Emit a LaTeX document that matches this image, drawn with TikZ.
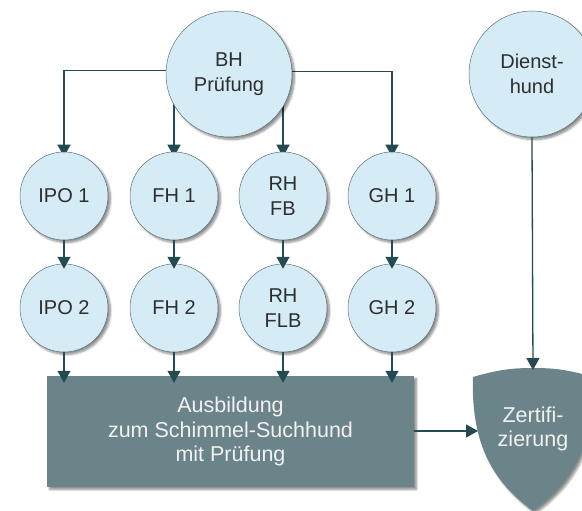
\documentclass[tikz,border=0pt]{standalone}
\usepackage{fontspec}
\setmainfont{Liberation Sans}
\usetikzlibrary{arrows.meta,shadows.blur}
\definecolor{cfill}{HTML}{D5ECF6}
\definecolor{cedge}{HTML}{5A7479}
\definecolor{arr}{HTML}{244A52}
\definecolor{slate}{HTML}{6B8489}
\definecolor{txt}{HTML}{2E2E2E}
\definecolor{wtxt}{HTML}{F2F2F2}
\pgfdeclarelayer{bg}
\pgfsetlayers{bg,main}
\begin{document}
\begin{tikzpicture}[x=1pt,y=-1pt,
  shd/.style={blur shadow={shadow xshift=2.5pt, shadow yshift=-2.5pt, shadow blur steps=6, shadow opacity=45}},
  circ/.style={circle, fill=cfill, draw=cedge, line width=0.5pt, inner sep=0pt,
    align=center, text=txt, font=\fontsize{20}{24.5}\selectfont, shd},
  small/.style={circ, minimum size=88pt},
  big/.style={circ, minimum size=126pt},
  box/.style={rectangle, fill=slate, inner sep=0pt, align=center, text=wtxt,
    font=\fontsize{21.5}{24.5}\selectfont, shd},
  con/.style={draw=arr, line width=1.3pt, -{Triangle[width=13pt,length=12pt]}, shorten >=-5pt}
]
\useasboundingbox (0,0) rectangle (582,511);

% shield
\path[fill=slate, shd] (473,377) .. controls (500,369) and (515,368) .. (533,368)
  .. controls (551,368) and (566,369) .. (593,377)
  .. controls (595,440) and (576,480) .. (533,511)
  .. controls (490,480) and (471,440) .. (473,377) -- cycle;
\node (zert) at (533,429) [align=center, text=wtxt, font=\fontsize{21.5}{24.5}\selectfont] {Zertifi-\\zierung};
\coordinate (zertL) at (473,431);
\coordinate (zertT) at (533,369);

\node (bh) [big] at (229,74) {BH\\Prüfung};
\node (dh) [big] at (532,74) {Dienst-\\hund};

\node (ipo1) [small] at (64,196) {IPO 1};
\node (fh1)  [small] at (174,196) {FH 1};
\node (rh1)  [small] at (283,196) {RH\\FB};
\node (gh1)  [small] at (392,196) {GH 1};

\node (ipo2) [small] at (64,308) {IPO 2};
\node (fh2)  [small] at (174,308) {FH 2};
\node (rh2)  [small] at (283,308) {RH\\FLB};
\node (gh2)  [small] at (392,308) {GH 2};

\node (aus) [box, minimum width=367pt, minimum height=111pt] at (230.5,431.5)
  {Ausbildung\\zum Schimmel-Suchhund\\mit Prüfung};

\begin{pgfonlayer}{bg}
\draw[con] (bh.177.3) -| (ipo1.north);
\draw[con] (bh.2.7) -| (gh1.north);
\draw[con] (bh.center -| fh1.north) -- (fh1.north);
\draw[con] (bh.center -| rh1.north) -- (rh1.north);
\end{pgfonlayer}

\draw[con] (ipo1) -- (ipo2);
\draw[con] (fh1) -- (fh2);
\draw[con] (rh1) -- (rh2);
\draw[con] (gh1) -- (gh2);

\draw[con, shorten >=0pt] (ipo2.south) -- ([yshift=-7pt]ipo2.south |- aus.north);
\draw[con, shorten >=0pt] (fh2.south) -- ([yshift=-7pt]fh2.south |- aus.north);
\draw[con, shorten >=0pt] (rh2.south) -- ([yshift=-7pt]rh2.south |- aus.north);
\draw[con, shorten >=0pt] (gh2.south) -- ([yshift=-7pt]gh2.south |- aus.north);

\draw[con] (aus.east |- zertL) -- (zertL);
\draw[con, shorten >=-1pt] (dh.south) -- (zertT);
\end{tikzpicture}
\end{document}
